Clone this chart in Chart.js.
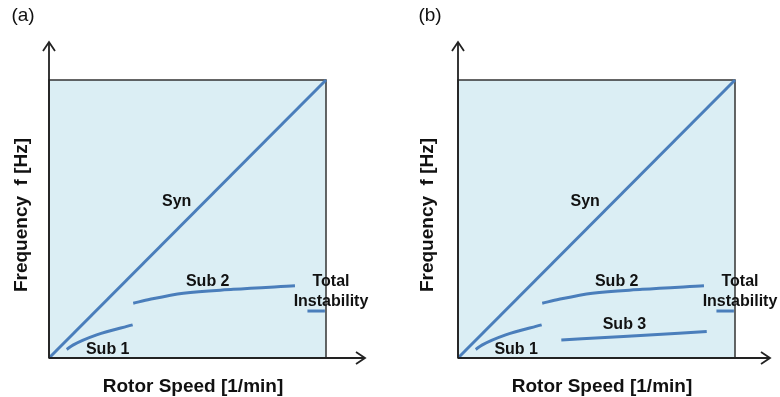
<!DOCTYPE html>
<html>
<head>
<meta charset="utf-8">
<script src="https://cdn.jsdelivr.net/npm/chart.js@4.4.1/dist/chart.umd.min.js"></script>
<style>
  html, body { margin: 0; padding: 0; background: #fff; }
  #wrap { position: relative; width: 780px; height: 397px; }
  canvas { position: absolute; top: 0; }
</style>
</head>
<body>
<div id="wrap">
  <canvas id="chartA" width="390" height="397" style="left:0"></canvas>
  <canvas id="chartB" width="390" height="397" style="left:390px"></canvas>
</div>
<script>
// datos (eje x e y normalizados 0..100)
const synX = [0, 100];
const synY = [0, 100];
const sub1X = [6.4, 8.8, 17.2, 30.2];
const sub1Y = [3.1, 4.7, 8.3, 11.9];
const sub2X = [30.4, 36.5, 48.5, 66.5, 88.8];
const sub2Y = [19.7, 21.1, 23.3, 24.7, 26.0];
const sub3X = [37.3, 59.7, 89.8];
const sub3Y = [6.5, 7.7, 9.5];
const totalX = [93.3, 99.6];
const totalY = [16.9, 16.9];

const xTitle = 'Rotor Speed [1/min]';
const yTitle = 'Frequency  f [Hz]';

// etiquetas de las curvas (en unidades de datos)
const labelsA = [
  { text: 'Syn', x: 46.1, y: 56.2 },
  { text: 'Sub 2', x: 57.3, y: 27.4 },
  { text: 'Sub 1', x: 21.2, y: 2.9 },
  { text: 'Total', x: 101.8, y: 27.6 },
  { text: 'Instability', x: 101.8, y: 20.4 }
];
const labelsB = [
  { text: 'Syn', x: 45.9, y: 56.2 },
  { text: 'Sub 2', x: 57.3, y: 27.4 },
  { text: 'Sub 3', x: 60.1, y: 11.9 },
  { text: 'Sub 1', x: 21.0, y: 2.9 },
  { text: 'Total', x: 101.8, y: 27.6 },
  { text: 'Instability', x: 101.8, y: 20.4 }
];

const lineColor = '#4a7ebb';
const fillColor = '#dbeef4';

const toPoints = (xs, ys) => xs.map((x, i) => ({ x: x, y: ys[i] }));

const makeSet = (xs, ys) => ({
  data: toPoints(xs, ys),
  borderColor: lineColor,
  borderWidth: 3,
  pointRadius: 0,
  cubicInterpolationMode: 'monotone',
  fill: false,
  clip: false
});

const framePlugin = {
  id: 'frame',
  beforeDatasetsDraw(chart) {
    const { ctx, chartArea: a } = chart;
    ctx.save();
    ctx.fillStyle = fillColor;
    ctx.fillRect(a.left, a.top, a.right - a.left, a.bottom - a.top);
    ctx.strokeStyle = '#333';
    ctx.lineWidth = 1.5;
    ctx.strokeRect(a.left, a.top, a.right - a.left, a.bottom - a.top);
    ctx.restore();
  },
  afterDraw(chart, args, opts) {
    const { ctx, chartArea: a, scales } = chart;
    ctx.save();
    // ejes con flechas
    ctx.strokeStyle = '#222';
    ctx.lineWidth = 1.8;
    ctx.beginPath();
    ctx.moveTo(a.left, a.bottom);
    ctx.lineTo(a.left, 42);
    ctx.moveTo(a.left, a.bottom);
    ctx.lineTo(a.right + opts.xExtra, a.bottom);
    ctx.stroke();
    ctx.beginPath();
    ctx.moveTo(a.left - 6, 51);
    ctx.lineTo(a.left, 42);
    ctx.lineTo(a.left + 6, 51);
    ctx.moveTo(a.right + opts.xExtra - 9, a.bottom - 6);
    ctx.lineTo(a.right + opts.xExtra, a.bottom);
    ctx.lineTo(a.right + opts.xExtra - 9, a.bottom + 6);
    ctx.stroke();

    ctx.fillStyle = '#111';
    ctx.textAlign = 'center';
    ctx.textBaseline = 'middle';

    // letra del panel
    ctx.font = '19px "Liberation Sans", Arial, sans-serif';
    ctx.fillText(opts.tag, opts.tagX, 16);

    // titulos de ejes
    ctx.font = 'bold 19px "Liberation Sans", Arial, sans-serif';
    ctx.fillText(xTitle, opts.xTitleX, 387);
    ctx.save();
    ctx.translate(opts.yTitleX, 215);
    ctx.rotate(-Math.PI / 2);
    ctx.fillText(yTitle, 0, 0);
    ctx.restore();

    // etiquetas de curvas
    ctx.font = 'bold 16px "Liberation Sans", Arial, sans-serif';
    opts.labels.forEach(l => {
      ctx.fillText(l.text, scales.x.getPixelForValue(l.x), scales.y.getPixelForValue(l.y));
    });
    ctx.restore();
  }
};

const makeChart = (id, sets, pad, opts) => new Chart(document.getElementById(id), {
  type: 'line',
  data: { datasets: sets },
  options: {
    responsive: false,
    animation: false,
    layout: { padding: pad },
    scales: {
      x: { type: 'linear', min: 0, max: 100, display: false },
      y: { type: 'linear', min: 0, max: 100, display: false }
    },
    plugins: {
      legend: { display: false },
      tooltip: { enabled: false },
      frame: opts
    }
  },
  plugins: [framePlugin]
});

// Panel (a)
makeChart('chartA', [
  makeSet(synX, synY),
  makeSet(sub1X, sub1Y),
  makeSet(sub2X, sub2Y),
  makeSet(totalX, totalY)
], { left: 49, right: 64, top: 80, bottom: 39 }, {
  tag: '(a)', tagX: 23, xTitleX: 193, yTitleX: 22, xExtra: 39, labels: labelsA
});

// Panel (b)
makeChart('chartB', [
  makeSet(synX, synY),
  makeSet(sub1X, sub1Y),
  makeSet(sub2X, sub2Y),
  makeSet(sub3X, sub3Y),
  makeSet(totalX, totalY)
], { left: 68, right: 45, top: 80, bottom: 39 }, {
  tag: '(b)', tagX: 40, xTitleX: 212, yTitleX: 38, xExtra: 35, labels: labelsB
});
</script>
</body>
</html>
